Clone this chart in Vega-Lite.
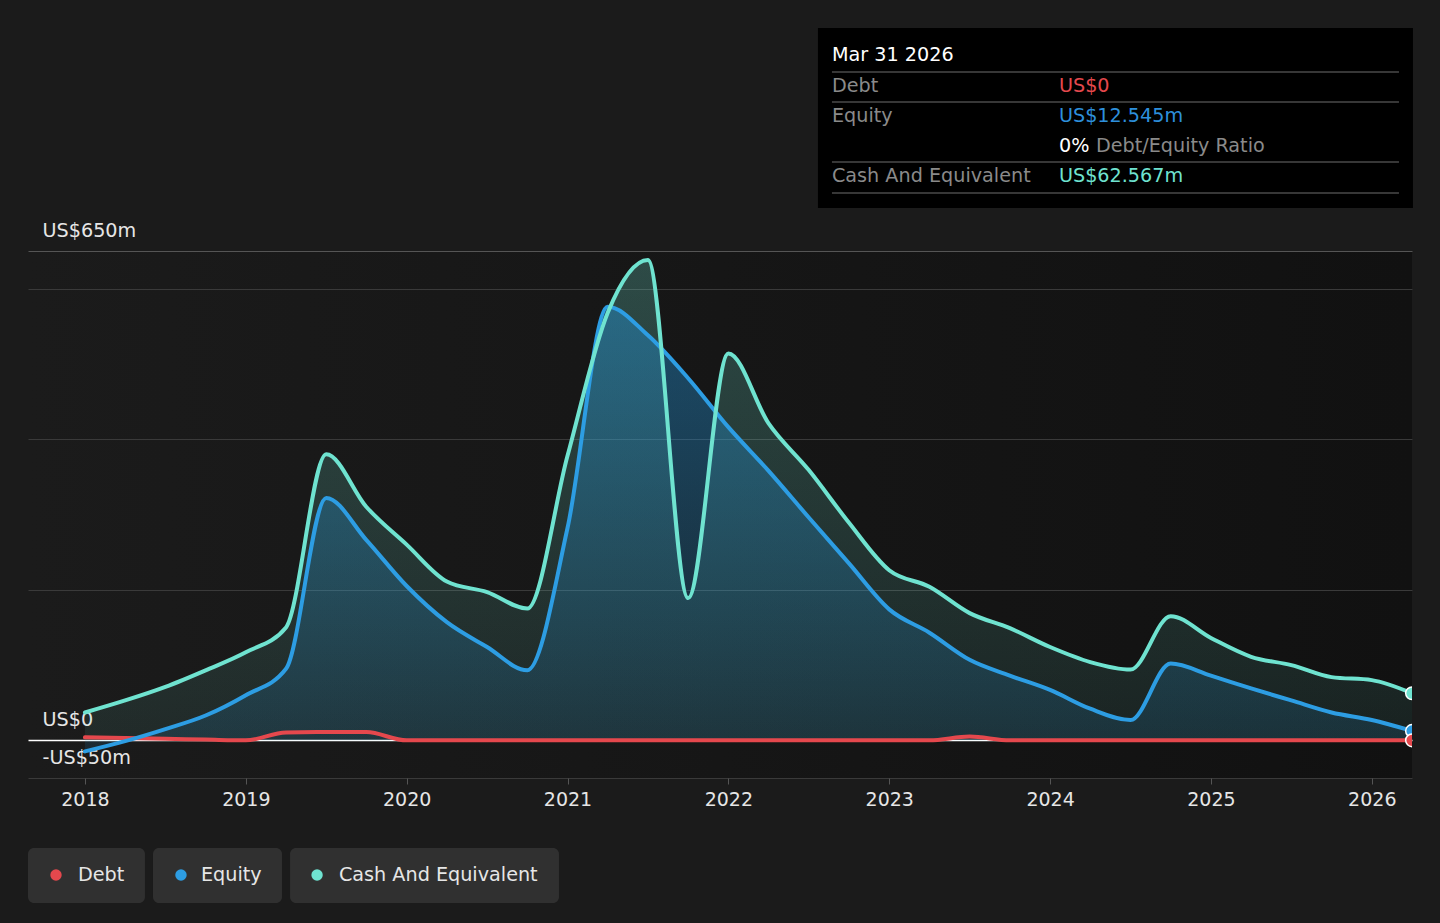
{
  "$schema": "https://vega.github.io/schema/vega-lite/v6.json",
  "width": 1384,
  "height": 527,
  "autosize": {"type": "none"},
  "padding": {"left": 28, "right": 28, "top": 251, "bottom": 145},
  "background": "#1b1b1b",
  "config": {
    "font": "DejaVu Sans",
    "view": {
      "stroke": null,
      "fill": {"gradient": "linear", "x1": 0, "y1": 0, "x2": 1, "y2": 0,
        "stops": [{"offset": 0, "color": "#1b1b1b"}, {"offset": 1, "color": "#111111"}]}
    }
  },
  "datasets": {
    "fin": [
      {"t": 2018, "series": "Cash And Equivalent", "value": 37},
      {"t": 2018.25, "series": "Cash And Equivalent", "value": 53},
      {"t": 2018.5, "series": "Cash And Equivalent", "value": 71},
      {"t": 2018.75, "series": "Cash And Equivalent", "value": 93},
      {"t": 2019, "series": "Cash And Equivalent", "value": 117},
      {"t": 2019.25, "series": "Cash And Equivalent", "value": 150},
      {"t": 2019.5, "series": "Cash And Equivalent", "value": 380},
      {"t": 2019.75, "series": "Cash And Equivalent", "value": 310},
      {"t": 2020, "series": "Cash And Equivalent", "value": 260},
      {"t": 2020.25, "series": "Cash And Equivalent", "value": 211},
      {"t": 2020.5, "series": "Cash And Equivalent", "value": 197},
      {"t": 2020.75, "series": "Cash And Equivalent", "value": 175},
      {"t": 2021, "series": "Cash And Equivalent", "value": 378},
      {"t": 2021.25, "series": "Cash And Equivalent", "value": 568},
      {"t": 2021.5, "series": "Cash And Equivalent", "value": 638},
      {"t": 2021.75, "series": "Cash And Equivalent", "value": 189},
      {"t": 2022, "series": "Cash And Equivalent", "value": 514},
      {"t": 2022.25, "series": "Cash And Equivalent", "value": 421},
      {"t": 2022.5, "series": "Cash And Equivalent", "value": 359},
      {"t": 2022.75, "series": "Cash And Equivalent", "value": 289},
      {"t": 2023, "series": "Cash And Equivalent", "value": 226},
      {"t": 2023.25, "series": "Cash And Equivalent", "value": 204},
      {"t": 2023.5, "series": "Cash And Equivalent", "value": 169},
      {"t": 2023.75, "series": "Cash And Equivalent", "value": 149},
      {"t": 2024, "series": "Cash And Equivalent", "value": 124},
      {"t": 2024.25, "series": "Cash And Equivalent", "value": 104},
      {"t": 2024.5, "series": "Cash And Equivalent", "value": 94},
      {"t": 2024.75, "series": "Cash And Equivalent", "value": 165},
      {"t": 2025, "series": "Cash And Equivalent", "value": 136},
      {"t": 2025.25, "series": "Cash And Equivalent", "value": 111},
      {"t": 2025.5, "series": "Cash And Equivalent", "value": 100},
      {"t": 2025.75, "series": "Cash And Equivalent", "value": 84},
      {"t": 2026, "series": "Cash And Equivalent", "value": 80},
      {"t": 2026.25, "series": "Cash And Equivalent", "value": 62.567},
      {"t": 2018, "series": "Equity", "value": -14.6},
      {"t": 2018.25, "series": "Equity", "value": -1},
      {"t": 2018.5, "series": "Equity", "value": 15},
      {"t": 2018.75, "series": "Equity", "value": 33},
      {"t": 2019, "series": "Equity", "value": 60},
      {"t": 2019.25, "series": "Equity", "value": 95},
      {"t": 2019.5, "series": "Equity", "value": 322},
      {"t": 2019.75, "series": "Equity", "value": 266},
      {"t": 2020, "series": "Equity", "value": 205},
      {"t": 2020.25, "series": "Equity", "value": 157},
      {"t": 2020.5, "series": "Equity", "value": 124},
      {"t": 2020.75, "series": "Equity", "value": 93},
      {"t": 2021, "series": "Equity", "value": 282},
      {"t": 2021.25, "series": "Equity", "value": 576},
      {"t": 2021.5, "series": "Equity", "value": 538},
      {"t": 2021.75, "series": "Equity", "value": 481},
      {"t": 2022, "series": "Equity", "value": 416},
      {"t": 2022.25, "series": "Equity", "value": 358},
      {"t": 2022.5, "series": "Equity", "value": 296},
      {"t": 2022.75, "series": "Equity", "value": 235},
      {"t": 2023, "series": "Equity", "value": 174},
      {"t": 2023.25, "series": "Equity", "value": 143},
      {"t": 2023.5, "series": "Equity", "value": 107},
      {"t": 2023.75, "series": "Equity", "value": 86},
      {"t": 2024, "series": "Equity", "value": 67},
      {"t": 2024.25, "series": "Equity", "value": 42},
      {"t": 2024.5, "series": "Equity", "value": 27},
      {"t": 2024.75, "series": "Equity", "value": 102},
      {"t": 2025, "series": "Equity", "value": 86},
      {"t": 2025.25, "series": "Equity", "value": 69},
      {"t": 2025.5, "series": "Equity", "value": 53},
      {"t": 2025.75, "series": "Equity", "value": 37},
      {"t": 2026, "series": "Equity", "value": 27},
      {"t": 2026.25, "series": "Equity", "value": 12.545},
      {"t": 2018, "series": "Debt", "value": 4},
      {"t": 2018.25, "series": "Debt", "value": 3},
      {"t": 2018.5, "series": "Debt", "value": 2},
      {"t": 2018.75, "series": "Debt", "value": 1},
      {"t": 2019, "series": "Debt", "value": 0},
      {"t": 2019.25, "series": "Debt", "value": 10.5},
      {"t": 2019.5, "series": "Debt", "value": 11},
      {"t": 2019.75, "series": "Debt", "value": 11},
      {"t": 2020, "series": "Debt", "value": 0},
      {"t": 2020.25, "series": "Debt", "value": 0},
      {"t": 2020.5, "series": "Debt", "value": 0},
      {"t": 2020.75, "series": "Debt", "value": 0},
      {"t": 2021, "series": "Debt", "value": 0},
      {"t": 2021.25, "series": "Debt", "value": 0},
      {"t": 2021.5, "series": "Debt", "value": 0},
      {"t": 2021.75, "series": "Debt", "value": 0},
      {"t": 2022, "series": "Debt", "value": 0},
      {"t": 2022.25, "series": "Debt", "value": 0},
      {"t": 2022.5, "series": "Debt", "value": 0},
      {"t": 2022.75, "series": "Debt", "value": 0},
      {"t": 2023, "series": "Debt", "value": 0},
      {"t": 2023.25, "series": "Debt", "value": 0},
      {"t": 2023.5, "series": "Debt", "value": 5},
      {"t": 2023.75, "series": "Debt", "value": 0},
      {"t": 2024, "series": "Debt", "value": 0},
      {"t": 2024.25, "series": "Debt", "value": 0},
      {"t": 2024.5, "series": "Debt", "value": 0},
      {"t": 2024.75, "series": "Debt", "value": 0},
      {"t": 2025, "series": "Debt", "value": 0},
      {"t": 2025.25, "series": "Debt", "value": 0},
      {"t": 2025.5, "series": "Debt", "value": 0},
      {"t": 2025.75, "series": "Debt", "value": 0},
      {"t": 2026, "series": "Debt", "value": 0},
      {"t": 2026.25, "series": "Debt", "value": 0}
    ]
  },
  "data": {"name": "fin"},
  "layer": [
    {
      "transform": [{"filter": "datum.series === 'Cash And Equivalent'"}],
      "mark": {"type": "area", "interpolate": "monotone", "clip": true,
        "fill": {"gradient": "linear", "x1": 0, "y1": 0, "x2": 0, "y2": 1,
          "stops": [{"offset": 0, "color": "rgba(113,231,214,0.25)"}, {"offset": 1, "color": "rgba(113,231,214,0.08)"}]}},
      "encoding": {
        "x": {"field": "t", "type": "quantitative", "title": null,
          "scale": {"domain": [2017.646, 2026.25], "nice": false, "zero": false},
          "axis": {"values": [2018, 2019, 2020, 2021, 2022, 2023, 2024, 2025, 2026], "format": "d", "title": null,
            "grid": false, "domain": false, "ticks": true, "tickColor": "#555555", "tickSize": 6, "tickWidth": 1,
            "labelFontSize": 19, "labelColor": "#e6e6e6", "labelPadding": 6, "labelFont": "DejaVu Sans"}},
        "y": {"field": "value", "type": "quantitative", "title": null,
          "scale": {"domain": [-50, 650], "nice": false, "zero": false},
          "axis": {"values": [-50, 0, 200, 400, 600, 650], "title": null, "domain": false, "ticks": false, "tickSize": 0,
            "grid": true,
            "gridColor": {"condition": [{"test": "datum.value === 0", "value": "#ffffff"}, {"test": "datum.value === 650", "value": "#555555"}], "value": "#3a3a3a"},
            "gridWidth": {"condition": {"test": "datum.value === 0", "value": 1.5}, "value": 1},
            "labelExpr": "datum.value === 650 ? 'US$650m' : datum.value === 0 ? 'US$0' : datum.value === -50 ? '-US$50m' : ''",
            "labelAlign": "left", "labelBaseline": "alphabetic", "labelPadding": -14, "labelOffset": -14.5,
            "labelFontSize": 19.2, "labelColor": "#e6e6e6", "labelFont": "DejaVu Sans",
            "labelOverlap": false, "labelBound": false, "labelFlush": false}}
      }
    },
    {
      "transform": [{"filter": "datum.series === 'Equity'"}],
      "mark": {"type": "area", "interpolate": "monotone", "clip": true,
        "fill": {"gradient": "linear", "x1": 0, "y1": 0, "x2": 0, "y2": 1,
          "stops": [{"offset": 0, "color": "rgba(35,150,220,0.42)"}, {"offset": 1, "color": "rgba(35,150,220,0.12)"}]}},
      "encoding": {
        "x": {"field": "t", "type": "quantitative", "title": null},
        "y": {"field": "value", "type": "quantitative", "title": null}
      }
    },
    {
      "transform": [{"filter": "datum.series === 'Debt'"}],
      "mark": {"type": "line", "interpolate": "monotone", "clip": true, "color": "#e5484d", "strokeWidth": 4, "strokeCap": "round"},
      "encoding": {
        "x": {"field": "t", "type": "quantitative", "title": null},
        "y": {"field": "value", "type": "quantitative", "title": null}
      }
    },
    {
      "transform": [{"filter": "datum.series === 'Equity'"}],
      "mark": {"type": "line", "interpolate": "monotone", "clip": true, "color": "#2d9de3", "strokeWidth": 4, "strokeCap": "round"},
      "encoding": {
        "x": {"field": "t", "type": "quantitative", "title": null},
        "y": {"field": "value", "type": "quantitative", "title": null}
      }
    },
    {
      "transform": [{"filter": "datum.series === 'Cash And Equivalent'"}],
      "mark": {"type": "line", "interpolate": "monotone", "clip": true, "color": "#6fe3d0", "strokeWidth": 4, "strokeCap": "round"},
      "encoding": {
        "x": {"field": "t", "type": "quantitative", "title": null},
        "y": {"field": "value", "type": "quantitative", "title": null}
      }
    },
    {
      "transform": [{"filter": "datum.t >= 2026.2"}],
      "mark": {"type": "point", "filled": true, "size": 160, "stroke": "#ffffff", "strokeWidth": 1.5, "opacity": 1, "clip": true},
      "encoding": {
        "x": {"field": "t", "type": "quantitative", "title": null},
        "y": {"field": "value", "type": "quantitative", "title": null},
        "fill": {"field": "series", "type": "nominal",
          "scale": {"domain": ["Debt", "Equity", "Cash And Equivalent"], "range": ["#e5484d", "#2d9de3", "#6fe3d0"]},
          "legend": null}
      }
    },
    {
      "data": {"values": [{"title": "Mar 31 2026"}]},
      "layer": [
        {
          "mark": {"type": "rect", "color": "#000000"},
          "encoding": {
            "x": {"datum": 2022.557, "title": null}, "x2": {"datum": 2026.256},
            "y": {"datum": 946.2, "title": null}, "y2": {"datum": 707.1}
          }
        },
        {
          "mark": {"type": "rule", "color": "#4a4a4a", "strokeWidth": 1.5},
          "encoding": {"x": {"datum": 2022.644, "title": null}, "x2": {"datum": 2026.169}, "y": {"datum": 887.8, "title": null}}
        },
        {
          "mark": {"type": "rule", "color": "#4a4a4a", "strokeWidth": 1.5},
          "encoding": {"x": {"datum": 2022.644, "title": null}, "x2": {"datum": 2026.169}, "y": {"datum": 847.9, "title": null}}
        },
        {
          "mark": {"type": "rule", "color": "#4a4a4a", "strokeWidth": 1.5},
          "encoding": {"x": {"datum": 2022.644, "title": null}, "x2": {"datum": 2026.169}, "y": {"datum": 768.2, "title": null}}
        },
        {
          "mark": {"type": "rule", "color": "#4a4a4a", "strokeWidth": 1.5},
          "encoding": {"x": {"datum": 2022.644, "title": null}, "x2": {"datum": 2026.169}, "y": {"datum": 727.0, "title": null}}
        },
        {
          "mark": {"type": "text", "align": "left", "baseline": "middle", "fontSize": 19.2, "color": "#ffffff"},
          "encoding": {"x": {"datum": 2022.644, "title": null}, "y": {"datum": 910.3, "title": null}, "text": {"field": "title"}}
        }
      ]
    },
    {
      "data": {"values": [{"label": "Debt", "shown": "US$0"}]},
      "layer": [
        {
          "mark": {"type": "text", "align": "left", "baseline": "middle", "fontSize": 19.2, "color": "#8a8a8a"},
          "encoding": {"x": {"datum": 2022.644, "title": null}, "y": {"datum": 869.2, "title": null}, "text": {"field": "label"}}
        },
        {
          "mark": {"type": "text", "align": "left", "baseline": "middle", "fontSize": 19.2, "color": "#e5484d"},
          "encoding": {"x": {"datum": 2024.055, "title": null}, "y": {"datum": 869.2, "title": null}, "text": {"field": "shown"}}
        }
      ]
    },
    {
      "data": {"values": [{"label": "Equity", "shown": "US$12.545m"}]},
      "layer": [
        {
          "mark": {"type": "text", "align": "left", "baseline": "middle", "fontSize": 19.2, "color": "#8a8a8a"},
          "encoding": {"x": {"datum": 2022.644, "title": null}, "y": {"datum": 829.3, "title": null}, "text": {"field": "label"}}
        },
        {
          "mark": {"type": "text", "align": "left", "baseline": "middle", "fontSize": 19.2, "color": "#2d8fdc"},
          "encoding": {"x": {"datum": 2024.055, "title": null}, "y": {"datum": 829.3, "title": null}, "text": {"field": "shown"}}
        }
      ]
    },
    {
      "data": {"values": [{"ratio": "0%", "label": "Debt/Equity Ratio"}]},
      "layer": [
        {
          "mark": {"type": "text", "align": "left", "baseline": "middle", "fontSize": 19.2, "color": "#ffffff"},
          "encoding": {"x": {"datum": 2024.055, "title": null}, "y": {"datum": 789.5, "title": null}, "text": {"field": "ratio"}}
        },
        {
          "mark": {"type": "text", "align": "left", "baseline": "middle", "fontSize": 19.2, "color": "#8a8a8a"},
          "encoding": {"x": {"datum": 2024.285, "title": null}, "y": {"datum": 789.5, "title": null}, "text": {"field": "label"}}
        }
      ]
    },
    {
      "data": {"values": [{"label": "Cash And Equivalent", "shown": "US$62.567m"}]},
      "layer": [
        {
          "mark": {"type": "text", "align": "left", "baseline": "middle", "fontSize": 19.2, "color": "#8a8a8a"},
          "encoding": {"x": {"datum": 2022.644, "title": null}, "y": {"datum": 749.6, "title": null}, "text": {"field": "label"}}
        },
        {
          "mark": {"type": "text", "align": "left", "baseline": "middle", "fontSize": 19.2, "color": "#6fe3d0"},
          "encoding": {"x": {"datum": 2024.055, "title": null}, "y": {"datum": 749.6, "title": null}, "text": {"field": "shown"}}
        }
      ]
    },
    {
      "data": {"values": [{"label": "Debt"}]},
      "layer": [
        {
          "mark": {"type": "rect", "color": "#303030", "cornerRadius": 6},
          "encoding": {"x": {"datum": 2017.646, "title": null}, "x2": {"datum": 2018.373}, "y": {"datum": -143.0, "title": null}, "y2": {"datum": -216.0}}
        },
        {
          "mark": {"type": "point", "filled": true, "size": 130, "color": "#e5484d", "opacity": 1},
          "encoding": {"x": {"datum": 2017.820, "title": null}, "y": {"datum": -178.8, "title": null}}
        },
        {
          "mark": {"type": "text", "align": "left", "baseline": "middle", "fontSize": 19.2, "color": "#e6e6e6"},
          "encoding": {"x": {"datum": 2017.957, "title": null}, "y": {"datum": -178.8, "title": null}, "text": {"field": "label"}}
        }
      ]
    },
    {
      "data": {"values": [{"label": "Equity"}]},
      "layer": [
        {
          "mark": {"type": "rect", "color": "#303030", "cornerRadius": 6},
          "encoding": {"x": {"datum": 2018.423, "title": null}, "x2": {"datum": 2019.225}, "y": {"datum": -143.0, "title": null}, "y2": {"datum": -216.0}}
        },
        {
          "mark": {"type": "point", "filled": true, "size": 130, "color": "#2d9de3", "opacity": 1},
          "encoding": {"x": {"datum": 2018.597, "title": null}, "y": {"datum": -178.8, "title": null}}
        },
        {
          "mark": {"type": "text", "align": "left", "baseline": "middle", "fontSize": 19.2, "color": "#e6e6e6"},
          "encoding": {"x": {"datum": 2018.7215, "title": null}, "y": {"datum": -178.8, "title": null}, "text": {"field": "label"}}
        }
      ]
    },
    {
      "data": {"values": [{"label": "Cash And Equivalent"}]},
      "layer": [
        {
          "mark": {"type": "rect", "color": "#303030", "cornerRadius": 6},
          "encoding": {"x": {"datum": 2019.275, "title": null}, "x2": {"datum": 2020.947}, "y": {"datum": -143.0, "title": null}, "y2": {"datum": -216.0}}
        },
        {
          "mark": {"type": "point", "filled": true, "size": 130, "color": "#6fe3d0", "opacity": 1},
          "encoding": {"x": {"datum": 2019.443, "title": null}, "y": {"datum": -178.8, "title": null}}
        },
        {
          "mark": {"type": "text", "align": "left", "baseline": "middle", "fontSize": 19.2, "color": "#e6e6e6"},
          "encoding": {"x": {"datum": 2019.579, "title": null}, "y": {"datum": -178.8, "title": null}, "text": {"field": "label"}}
        }
      ]
    }
  ]
}
